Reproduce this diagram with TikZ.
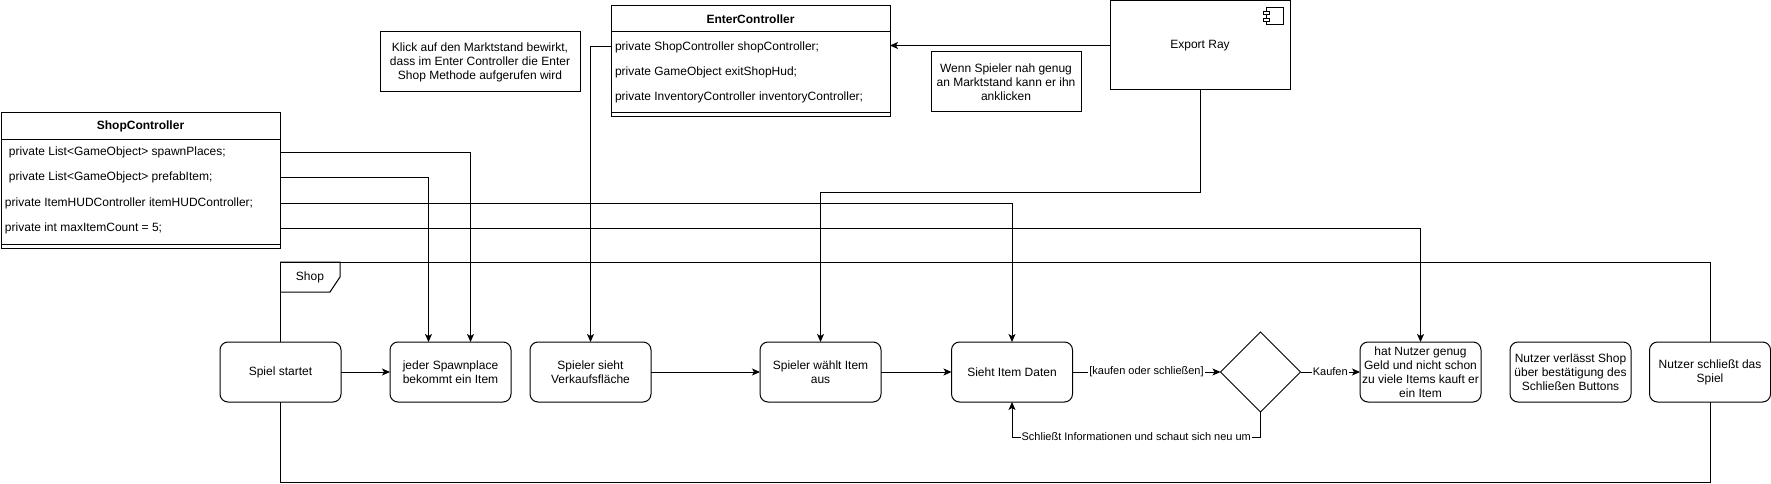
\documentclass[tikz,border=0pt]{standalone}
\usepackage{fontspec}
\setmainfont{Liberation Sans}
\usetikzlibrary{arrows.meta,shapes.geometric,calc}
\begin{document}
\begin{tikzpicture}[x=1pt,y=-1pt,
  every node/.style={font=\fontsize{12}{14}\selectfont, inner sep=0pt, outer sep=0pt},
  line/.style={draw=black, line width=1pt},
  arr/.style={line, -{Stealth[length=8pt,width=7pt,inset=2pt]}},
  actbox/.style={draw, line width=1pt, fill=white, rounded corners=8pt, minimum width=121pt, minimum height=60pt, align=center},
  plainbox/.style={draw, line width=1pt, fill=white, align=center},
  fld/.style={anchor=west},
  elabel/.style={font=\fontsize{11}{13}\selectfont, fill=white, inner sep=1pt}
]
\useasboundingbox (0,0) rectangle (1771,484);

% Shop frame
\node[draw, line width=1pt, minimum width=1430pt, minimum height=220pt] (frame) at (995,372) {};
\draw[line] (frame.north west) -- ++(60,0) -- ++(0,15) -- ++(-10,15) -- ++(-50,0);
\node (shoplbl) at (310,277) {Shop};

% ShopController class
\node[plainbox, minimum width=279pt, minimum height=135pt] (shopbox) at (140.5,180.5) {};
\node (shoptitle) at (140.5,126) {\textbf{ShopController}};
\draw[line] (shopbox.west |- 0,139) -- (shopbox.east |- 0,139);
\draw[line] (shopbox.west |- 0,244) -- (shopbox.east |- 0,244);
\node[fld] (f1) at (9,152) {private List<GameObject> spawnPlaces;};
\node[fld] (f2) at (9,177) {private List<GameObject> prefabItem;};
\node[fld] (f3) at (5,203) {private ItemHUDController itemHUDController;};
\node[fld] (f4) at (5,228) {private int maxItemCount = 5;};

% EnterController class
\node[plainbox, minimum width=279pt, minimum height=111pt] (enter) at (750.5,61.5) {};
\node (entertitle) at (750.5,19) {\textbf{EnterController}};
\draw[line] (enter.west |- 0,32) -- (enter.east |- 0,32);
\draw[line] (enter.west |- 0,113) -- (enter.east |- 0,113);
\node[fld] (e1) at (615,47) {private ShopController shopController;};
\node[fld] (e2) at (615,72) {private GameObject exitShopHud;};
\node[fld] (e3) at (615,97) {private InventoryController inventoryController;};

% Notes
\node[plainbox, minimum width=200pt, minimum height=60pt] (note1) at (480,62) {Klick auf den Marktstand bewirkt,\\dass im Enter Controller die Enter\\Shop Methode aufgerufen wird};
\node[plainbox, minimum width=150pt, minimum height=60pt] (note2) at (1006,82) {Wenn Spieler nah genug\\an Marktstand kann er ihn\\anklicken};

% Export Ray component
\node[plainbox, minimum width=180pt, minimum height=89pt] (export) at (1200,45.5) {Export Ray};
\draw[line] ($(export.north east)+(-24,7)$) rectangle ($(export.north east)+(-7,24)$);
\draw[line, fill=white] ($(export.north east)+(-27,11)$) rectangle ($(export.north east)+(-21,14)$);
\draw[line, fill=white] ($(export.north east)+(-27,18)$) rectangle ($(export.north east)+(-21,21)$);

% Activity boxes
\node[actbox] (spiel) at (280.5,372) {Spiel startet};
\node[actbox] (spawn) at (450.5,372) {jeder Spawnplace\\bekommt ein Item};
\node[actbox] (sieht) at (590.5,372) {Spieler sieht\\Verkaufsfläche};
\node[actbox] (waehlt) at (820.5,372) {Spieler wählt Item\\aus};
\node[actbox] (daten) at (1012,372) {Sieht Item Daten};
\node[draw, line width=1pt, fill=white, diamond, shape aspect=1, minimum width=80pt, minimum height=80pt] (dia) at (1260.5,372) {};
\node[actbox] (hat) at (1420.5,372) {hat Nutzer genug\\Geld und nicht schon\\zu viele Items kauft er\\ein Item};
\node[actbox] (verl) at (1570.5,372) {Nutzer verlässt Shop\\über bestätigung des\\Schließen Buttons};
\node[actbox] (schl) at (1710,372) {Nutzer schließt das\\Spiel};

% Connectors from classes
\draw[arr] (shopbox.east |- f1) -| ([xshift=20pt]spawn.north);
\draw[arr] (shopbox.east |- f2) -| ([xshift=-22pt]spawn.north);
\draw[arr] (shopbox.east |- f3) -| (daten.north);
\draw[arr] (shopbox.east |- f4) -| (hat.north);
\draw[arr] (enter.west |- e1) -| (sieht.north);
\draw[arr] (export.west) -- (enter.east |- export.west);
\draw[arr] (export.south) -- ++(0,102) -| (waehlt.north);

% Flow
\draw[arr] (spiel) -- (spawn);
\draw[arr] (sieht) -- (waehlt);
\draw[arr] (waehlt) -- (daten);
\draw[arr] (daten) -- node[elabel] (l1) {[kaufen oder schließen]} (dia);
\draw[arr] (dia) -- node[elabel] (l2) {Kaufen} (hat);
\draw[arr] (dia.south) -- ++(0,25) -| node[pos=0.25, elabel] (l3) {Schließt Informationen und schaut sich neu um} (daten.south);
\end{tikzpicture}
\end{document}
